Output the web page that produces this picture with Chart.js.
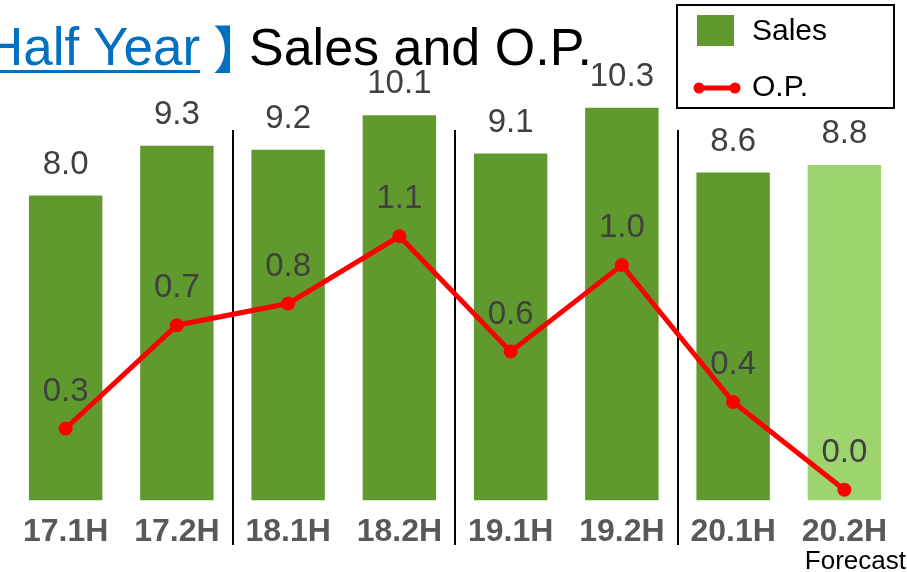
<!DOCTYPE html>
<html>
<head>
<meta charset="utf-8">
<script src="https://cdn.jsdelivr.net/npm/chart.js@4.4.1/dist/chart.umd.min.js"></script>
<style>
  html, body { margin: 0; padding: 0; background: #fff; overflow: hidden; }
  #wrap { position: relative; width: 907px; height: 572px; }
  #title { position: absolute; top: 0; left: 0; height: 80px; width: 907px;
    font-family: "Liberation Sans", "Noto Sans CJK JP", sans-serif; line-height: 1; color: #000; white-space: nowrap; }
  #title span { position: absolute; }
  #title .link { top: 20px; left: -15px; font-size: 53px; color: #0070c0; text-decoration: underline; text-decoration-thickness: 3px; text-underline-offset: 5px; }
  #title .br { top: 22px; left: 213px; font-size: 51px; color: #0070c0; font-family: "Noto Sans CJK JP", sans-serif; }
  #title .main { top: 21px; left: 249px; font-size: 52px; }
</style>
</head>
<body>
<div id="wrap">
  <canvas id="chart"></canvas>
  <div id="title"><span class="link">Half Year</span><span class="br">】</span><span class="main">Sales and O.P.</span></div>
</div>
<script>
// half-year periods, sales and operating profit
const periods = ["17.1H", "17.2H", "18.1H", "18.2H", "19.1H", "19.2H", "20.1H", "20.2H"];
const sales = [8.0, 9.3, 9.2, 10.1, 9.1, 10.3, 8.6, 8.8];
const opProfit = [0.3, 0.73, 0.82, 1.1, 0.62, 0.98, 0.41, 0.045];
const forecastIndex = 7;
const yearBreaks = [1.5, 3.5, 5.5];

const GREEN = "#609a2f";
const LIGHT_GREEN = "#9dd46d";
const RED = "#ff0000";
const FONT = "'Liberation Sans', Arial, sans-serif";

// value labels above bars and points, year separators, legend box, "Forecast" note
const decorations = {
  id: "decorations",
  beforeDatasetsDraw(chart) {
    const ctx = chart.ctx;
    const x = chart.scales.x;
    ctx.save();
    ctx.strokeStyle = "#000";
    ctx.lineWidth = 2;
    yearBreaks.forEach((b) => {
      const px = Math.round((x.getPixelForValue(Math.floor(b)) + x.getPixelForValue(Math.ceil(b))) / 2);
      ctx.beginPath();
      ctx.moveTo(px, 130);
      ctx.lineTo(px, 545);
      ctx.stroke();
    });
    ctx.restore();
  },
  afterDatasetsDraw(chart) {
    const ctx = chart.ctx;
    ctx.save();
    ctx.fillStyle = "#404040";
    ctx.font = "33px " + FONT;
    ctx.textAlign = "center";
    ctx.textBaseline = "middle";
    chart.getDatasetMeta(1).data.forEach((el, i) => {
      ctx.fillText(sales[i].toFixed(1), el.x, el.y - 31);
    });
    chart.getDatasetMeta(0).data.forEach((el, i) => {
      ctx.fillText(opProfit[i].toFixed(1), el.x, el.y - 37);
    });

    // Forecast note under the last period
    const fx = chart.scales.x.getPixelForValue(forecastIndex);
    ctx.fillStyle = "#000";
    ctx.font = "26px " + FONT;
    ctx.textBaseline = "alphabetic";
    ctx.fillText("Forecast", fx + 11, 569);

    // legend box
    ctx.fillStyle = "#fff";
    ctx.fillRect(677, 5, 217, 103);
    ctx.strokeStyle = "#000";
    ctx.lineWidth = 2;
    ctx.strokeRect(677, 5, 217, 103);
    ctx.fillStyle = GREEN;
    ctx.fillRect(697, 15, 37, 31);
    ctx.strokeStyle = RED;
    ctx.lineWidth = 5;
    ctx.beginPath();
    ctx.moveTo(699, 88);
    ctx.lineTo(735, 88);
    ctx.stroke();
    ctx.fillStyle = RED;
    [699, 735].forEach((cx) => {
      ctx.beginPath();
      ctx.arc(cx, 88, 5.5, 0, Math.PI * 2);
      ctx.fill();
    });
    ctx.fillStyle = "#000";
    ctx.font = "30px " + FONT;
    ctx.textAlign = "left";
    ctx.textBaseline = "middle";
    ctx.fillText("Sales", 752, 32);
    ctx.fillText("O.P.", 752, 88);
    ctx.restore();
  },
};

new Chart(document.getElementById("chart"), {
  type: "bar",
  data: {
    labels: periods,
    datasets: [
      {
        type: "line",
        label: "O.P.",
        data: opProfit,
        yAxisID: "y2",
        order: 0,
        borderColor: RED,
        backgroundColor: RED,
        borderWidth: 5,
        pointRadius: 7,
        pointBackgroundColor: RED,
        pointBorderWidth: 0,
        tension: 0,
      },
      {
        label: "Sales",
        data: sales,
        yAxisID: "y",
        order: 1,
        backgroundColor: periods.map((_, i) => (i === forecastIndex ? LIGHT_GREEN : GREEN)),
        categoryPercentage: 1,
        barPercentage: 0.66,
      },
    ],
  },
  options: {
    responsive: true,
    maintainAspectRatio: false,
    animation: false,
    layout: { padding: { left: 10, right: 0, top: 20, bottom: 9 } },
    scales: {
      x: {
        grid: { display: false, drawTicks: false },
        border: { display: false },
        ticks: { color: "#595959", padding: 12, font: { family: FONT, size: 32, weight: "bold" } },
      },
      y: { display: false, min: 0, max: 12.6 },
      y2: { display: false, min: 0, max: 2.0, position: "right" },
    },
    plugins: { legend: { display: false }, tooltip: { enabled: false } },
  },
  plugins: [decorations],
});
</script>
</body>
</html>
